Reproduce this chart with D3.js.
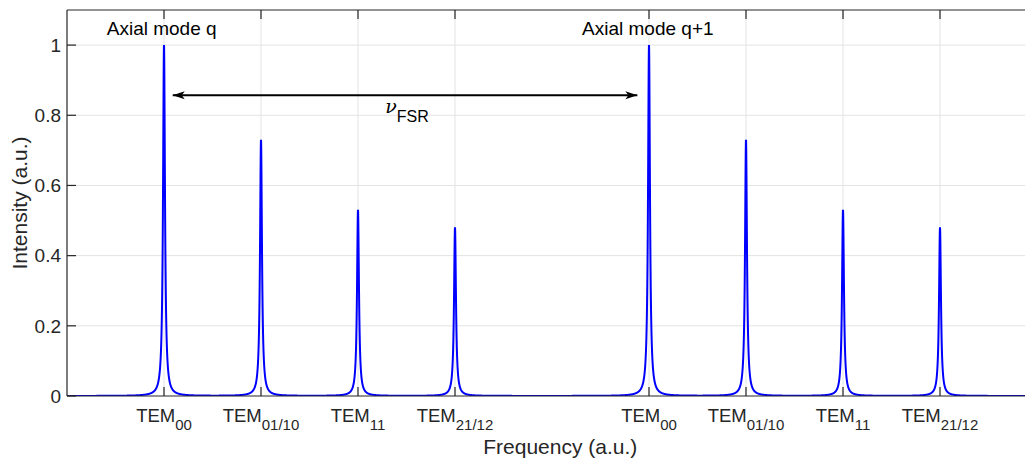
<!DOCTYPE html>
<html>
<head>
<meta charset="utf-8">
<script src="https://cdn.jsdelivr.net/npm/d3@7"></script>
<style>
  body { margin: 0; background: #fff; }
  text { font-family: "Liberation Sans", Arial, sans-serif; fill: #262626; }
</style>
</head>
<body>
<div id="chart"></div>
<script>
// peak data (frequency in units of the transverse mode spacing)
var peakPos = [1, 2, 3, 4, 6, 7, 8, 9];
var peakHeight = [1, 0.73, 0.53, 0.48, 1, 0.73, 0.53, 0.48];
var tickSub = ["00", "01/10", "11", "21/12", "00", "01/10", "11", "21/12"];
var yTicks = [0, 0.2, 0.4, 0.6, 0.8, 1];
var halfWidth = 0.012;          // Lorentzian half width
var xDomain = [0, 10.17];
var yDomain = [0, 1.1];
var arrowFrom = [1.09, 0.857], arrowTo = [5.88, 0.857];
var modeLabels = [{text: "Axial mode q", x: 0.41, y: 1.028}, {text: "Axial mode q+1", x: 5.31, y: 1.028}];

var W = 1025, H = 459;
var margin = {top: 10, left: 67, bottom: 63};
var plotW = 97 * xDomain[1],
    plotH = H - margin.top - margin.bottom;

var svg = d3.select("#chart").append("svg")
    .attr("width", W)
    .attr("height", H);

var g = svg.append("g")
    .attr("transform", "translate(" + margin.left + "," + margin.top + ")");

var x = d3.scaleLinear().domain(xDomain).range([0, plotW]);
var y = d3.scaleLinear().domain(yDomain).range([plotH, 0]);

g.append("clipPath").attr("id", "clip")
  .append("rect").attr("width", plotW).attr("height", plotH);

// grid
g.selectAll(".gx").data(peakPos).enter().append("line")
    .attr("x1", function(d) { return x(d); }).attr("x2", function(d) { return x(d); })
    .attr("y1", 0).attr("y2", plotH)
    .attr("stroke", "#e3e3e3").attr("stroke-width", 1);
g.selectAll(".gy").data(yTicks.slice(1)).enter().append("line")
    .attr("x1", 0).attr("x2", plotW)
    .attr("y1", function(d) { return y(d); }).attr("y2", function(d) { return y(d); })
    .attr("stroke", "#e3e3e3").attr("stroke-width", 1);

// curve: sum of Lorentzian lines at each peak
var xs = d3.range(xDomain[0], xDomain[1], 0.0005);
var curve = xs.map(function(f) {
  var v = 0;
  for (var i = 0; i < peakPos.length; i++) {
    var dx = f - peakPos[i];
    v += peakHeight[i] * halfWidth * halfWidth / (dx * dx + halfWidth * halfWidth);
  }
  return [f, v];
});

g.append("path")
    .datum(curve)
    .attr("clip-path", "url(#clip)")
    .attr("fill", "none")
    .attr("stroke", "#0000ff")
    .attr("stroke-width", 2)
    .attr("d", d3.line()
      .x(function(d) { return x(d[0]); })
      .y(function(d) { return y(d[1]); }));

// axes box and ticks
var axisColor = "#262626";
g.append("line").attr("x1", 0).attr("x2", plotW).attr("y1", plotH).attr("y2", plotH)
    .attr("stroke", axisColor).attr("stroke-width", 1.2);
g.append("line").attr("x1", 0).attr("x2", plotW).attr("y1", 0).attr("y2", 0)
    .attr("stroke", axisColor).attr("stroke-width", 1.2);
g.append("line").attr("x1", 0).attr("x2", 0).attr("y1", 0).attr("y2", plotH)
    .attr("stroke", axisColor).attr("stroke-width", 1.2);

g.selectAll(".tb").data(peakPos).enter().append("line")
    .attr("x1", function(d) { return x(d); }).attr("x2", function(d) { return x(d); })
    .attr("y1", plotH).attr("y2", plotH - 9)
    .attr("stroke", axisColor).attr("stroke-width", 1.2);
g.selectAll(".tt").data(peakPos).enter().append("line")
    .attr("x1", function(d) { return x(d); }).attr("x2", function(d) { return x(d); })
    .attr("y1", 0).attr("y2", 9)
    .attr("stroke", axisColor).attr("stroke-width", 1.2);
g.selectAll(".ty").data(yTicks).enter().append("line")
    .attr("x1", 0).attr("x2", 9)
    .attr("y1", function(d) { return y(d); }).attr("y2", function(d) { return y(d); })
    .attr("stroke", axisColor).attr("stroke-width", 1.2);

// tick labels
g.selectAll(".yl").data(yTicks).enter().append("text")
    .attr("x", -6)
    .attr("y", function(d) { return y(d); })
    .attr("dy", "0.36em")
    .attr("text-anchor", "end")
    .attr("font-size", "19px")
    .text(function(d) { return d3.format("~g")(d); });

var xl = g.selectAll(".xl").data(peakPos).enter().append("text")
    .attr("x", function(d) { return x(d); })
    .attr("y", plotH + 26)
    .attr("text-anchor", "middle")
    .attr("font-size", "18.5px");
xl.append("tspan").text("TEM");
xl.append("tspan")
    .attr("dy", 8)
    .attr("font-size", "15px")
    .text(function(d, i) { return tickSub[i]; });

// axis labels
g.append("text")
    .attr("x", plotW / 2)
    .attr("y", plotH + 58)
    .attr("text-anchor", "middle")
    .attr("font-size", "21px")
    .text("Frequency (a.u.)");
g.append("text")
    .attr("transform", "translate(-40," + (plotH / 2) + ") rotate(-90)")
    .attr("text-anchor", "middle")
    .attr("font-size", "21px")
    .text("Intensity (a.u.)");

// annotations
g.selectAll(".ml").data(modeLabels).enter().append("text")
    .attr("x", function(d) { return x(d.x); })
    .attr("y", function(d) { return y(d.y); })
    .attr("font-size", "19px")
    .style("fill", "#000")
    .text(function(d) { return d.text; });

var defs = svg.append("defs");
defs.append("marker")
    .attr("id", "head")
    .attr("viewBox", "-13 -5 14 10")
    .attr("refX", 0).attr("refY", 0)
    .attr("markerUnits", "userSpaceOnUse")
    .attr("markerWidth", 14).attr("markerHeight", 10)
    .attr("orient", "auto-start-reverse")
  .append("path")
    .attr("d", "M0,0 L-12,-4 L-9,0 L-12,4 Z")
    .attr("fill", "#000");

g.append("line")
    .attr("x1", x(arrowFrom[0])).attr("y1", y(arrowFrom[1]))
    .attr("x2", x(arrowTo[0])).attr("y2", y(arrowTo[1]))
    .attr("stroke", "#000").attr("stroke-width", 2)
    .attr("marker-start", "url(#head)")
    .attr("marker-end", "url(#head)");

var nu = g.append("text")
    .attr("x", x(3.28))
    .attr("y", y(0.806))
    .style("fill", "#000")
    .attr("font-size", "19px");
nu.append("tspan").attr("font-family", "DejaVu Serif").attr("font-style", "italic").text("\u03bd");
nu.append("tspan").attr("dy", 9).attr("font-size", "16px").text("FSR");
</script>
</body>
</html>
